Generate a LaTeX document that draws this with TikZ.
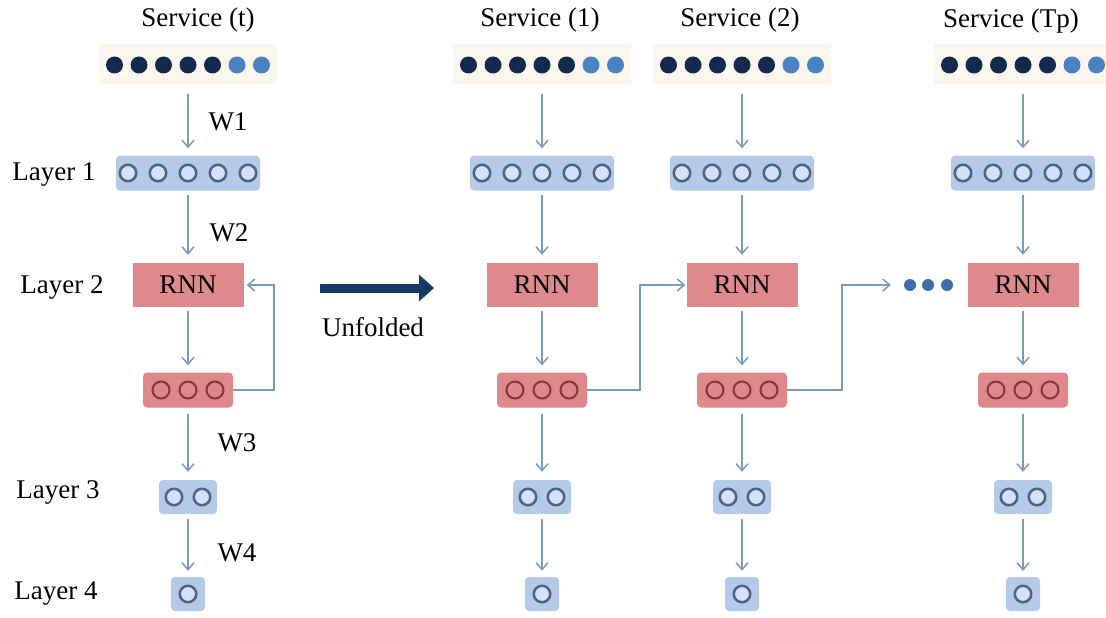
\documentclass[tikz,border=0pt]{standalone}
\usepackage{fontspec}
\setmainfont{Liberation Serif}
\usetikzlibrary{arrows.meta}
\definecolor{arrowc}{HTML}{7C99BF}
\definecolor{navy}{HTML}{13294D}
\definecolor{lightdot}{HTML}{4A82C4}
\definecolor{beige}{HTML}{FBF6EE}
\definecolor{boxblue}{HTML}{B5C9E8}
\definecolor{cfill}{HTML}{D6E0F8}
\definecolor{cstroke}{HTML}{4D6585}
\definecolor{rnnred}{HTML}{DE8A8D}
\definecolor{redbox}{HTML}{DF888B}
\definecolor{rstroke}{HTML}{8A3535}
\definecolor{ellc}{HTML}{3F6EA8}
\definecolor{bigarrow}{HTML}{1A3A66}
\tikzset{
  lbl/.style={font=\fontsize{27}{31}\selectfont, text=black, inner sep=0},
  arr/.style={draw=arrowc, line width=1.5pt, -{Straight Barb[length=7pt,width=12pt,line width=1.5pt]}},
  strip/.style={fill=beige, draw=none, minimum width=178pt, minimum height=40pt, inner sep=0},
  bluebox/.style={fill=boxblue, draw=none, rounded corners=4pt, inner sep=0},
  rnnbox/.style={fill=rnnred, draw=none, minimum width=111pt, minimum height=44pt, inner sep=0, font=\fontsize{27}{31}\selectfont},
  redbx/.style={fill=redbox, draw=none, rounded corners=4pt, minimum width=90pt, minimum height=35pt, inner sep=0},
  ring/.style={circle, fill=cfill, draw=cstroke, line width=2.5pt, minimum size=16.5pt, inner sep=0},
  rring/.style={circle, fill=redbox, draw=rstroke, line width=2pt, minimum size=17pt, inner sep=0},
  dotc/.style={circle, fill=#1, draw=none, minimum size=17pt, inner sep=0},
  elld/.style={circle, fill=ellc, draw=none, minimum size=12pt, inner sep=0},
}
\begin{document}
\begin{tikzpicture}[x=1pt,y=-1pt]
\useasboundingbox (0,0) rectangle (1106,618);
% titles
\node[lbl] (st) at (198,20) {Service (t)};
\node[lbl] (s1t) at (540,20) {Service (1)};
\node[lbl] (s2t) at (740,20) {Service (2)};
\node[lbl] (s3t) at (1011,21) {Service (Tp)};
% layer labels
\node[lbl] (ly1) at (54,175) {Layer 1};
\node[lbl] (ly2) at (62,287) {Layer 2};
\node[lbl] (ly3) at (58,492) {Layer 3};
\node[lbl] (ly4) at (56,594) {Layer 4};
% weights
\node[lbl] (w1) at (228,122) {W1};
\node[lbl] (w2) at (229,233) {W2};
\node[lbl] (w3) at (237,443) {W3};
\node[lbl] (w4) at (237,553) {W4};
% columns
\foreach \c/\x in {0/188, 1/542, 2/742, 3/1023} {
  \node[strip] (s\c) at (\x,64) {};
  \foreach \i [count=\k] in {-3,-2,-1,0,1} {
    \node[dotc=navy] (s\c d\k) at (\x+\i*24.5,65) {};
  }
  \node[dotc=lightdot] (s\c d6) at (\x+2*24.5,65) {};
  \node[dotc=lightdot] (s\c d7) at (\x+3*24.5,65) {};
  % layer 1
  \node[bluebox, minimum width=144pt, minimum height=35pt] (l\c) at (\x,173) {};
  \foreach \i [count=\k] in {-2,-1,0,1,2} {
    \node[ring] (l\c c\k) at (\x+\i*30,173) {};
  }
  % RNN
  \node[rnnbox] (n\c) at (\x,285) {RNN};
  % red circles
  \node[redbx] (r\c) at (\x,390) {};
  \foreach \i [count=\k] in {-1,0,1} {
    \node[rring] (r\c c\k) at (\x+\i*27,390) {};
  }
  % layer 3
  \node[bluebox, minimum width=58pt, minimum height=34pt] (t\c) at (\x,497) {};
  \node[ring] (t\c c1) at (\x-14,497) {};
  \node[ring] (t\c c2) at (\x+14,497) {};
  % layer 4
  \node[bluebox, minimum width=34pt, minimum height=34pt] (f\c) at (\x,594) {};
  \node[ring] (f\c c1) at (\x,594) {};
  % arrows
  \draw[arr, shorten <=10pt, shorten >=7pt] (s\c) -- (l\c);
  \draw[arr, shorten <=4pt, shorten >=8pt] (l\c) -- (n\c);
  \draw[arr, shorten <=4pt, shorten >=7pt] (n\c) -- (r\c);
  \draw[arr, shorten <=6pt, shorten >=8pt] (r\c) -- (t\c);
  \draw[arr, shorten <=5pt, shorten >=6pt] (t\c) -- (f\c);
}
% feedback loop
\coordinate (fb) at (274,0);
\draw[arr, shorten >=3pt] (r0.east) -- (fb |- r0.east) |- (n0.east);
% cross connectors
\coordinate (k1) at (640,0);
\draw[arr, shorten >=1pt] (r1.east) -- (k1 |- r1.east) |- (n2.west);
\node[elld] (e1) at (910,285) {};
\node[elld] (e2) at (928,285) {};
\node[elld] (e3) at (947,285) {};
\coordinate (k2) at (842,0);
\draw[arr, shorten >=13pt] (r2.east) -- (k2 |- r2.east) |- (e1.west);
% unfolded arrow
\coordinate (ua) at (320,288);
\coordinate (ub) at (434,288);
\draw[bigarrow, line width=9pt, -{Triangle[length=15pt,width=26pt]}] (ua) -- (ub);
\node[lbl] (unf) at (373,327) {Unfolded};
\end{tikzpicture}
\end{document}
